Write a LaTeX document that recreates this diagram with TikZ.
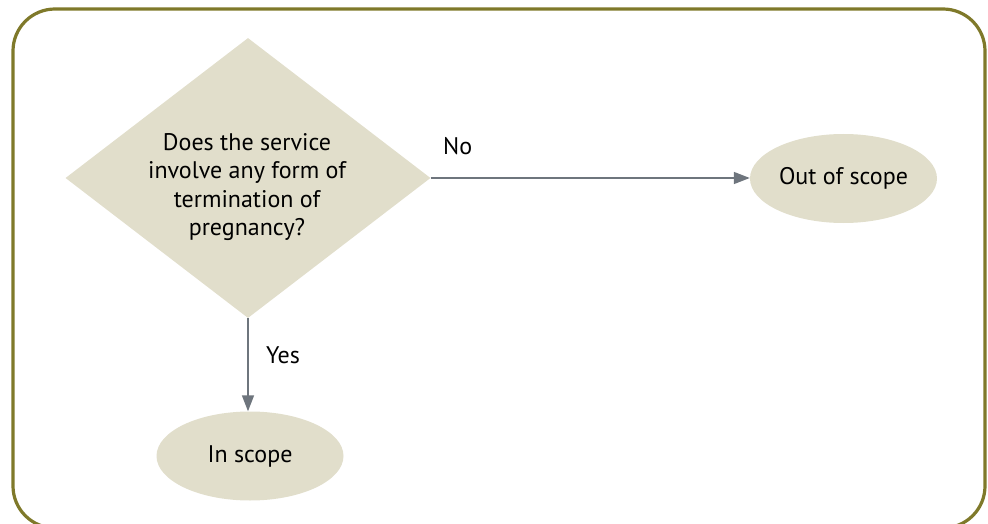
\documentclass[tikz,border=0pt]{standalone}
\usepackage{fontspec}
\setmainfont{PT Sans}
\usetikzlibrary{shapes.geometric,arrows.meta,calc}
\definecolor{frameolive}{HTML}{7F792A}
\definecolor{boxfill}{HTML}{E1DECB}
\definecolor{linkgray}{HTML}{6E757D}
\tikzset{
  decision/.style={diamond, fill=boxfill, inner sep=0pt, minimum width=365, minimum height=280},
  outcome/.style={ellipse, fill=boxfill, inner sep=0pt, minimum width=187, minimum height=89, font=\fontsize{24}{28}\selectfont},
  qtext/.style={align=center, font=\fontsize{24}{28.5}\selectfont, inner sep=0pt},
  link/.style={draw=linkgray, line width=1.5, -{Triangle[length=16, width=12]}},
  branch/.style={font=\fontsize{24}{28}\selectfont, inner sep=0pt, anchor=base west},
}
\begin{document}
\begin{tikzpicture}[x=1pt, y=-1pt]
  \useasboundingbox (0,0) rectangle (988,524);
  % outer rounded frame, its lower edge runs past the page
  \begin{scope}
    \clip (0,0) rectangle (988,524);
    \draw[frameolive, line width=3.2, rounded corners=42] (13,9) rectangle (985,528);
  \end{scope}
  % decision and outcomes
  \node[decision] (q) at (248,178) {};
  \node[qtext] (qt) at (247,187) {Does the service\\involve any form of\\termination of\\pregnancy?};
  \node[outcome] (out) at (843.5,178.5) {Out of scope};
  \node[outcome] (in) at (250,456) {In scope};
  % connectors
  \draw[link] (q.east) -- (q.east -| out.west);
  \draw[link] (q.south) -- (q.south |- in.north);
  \node[branch] (no) at (443,154) {No};
  \node[branch] (yes) at (266,363) {Yes};
\end{tikzpicture}
\end{document}
